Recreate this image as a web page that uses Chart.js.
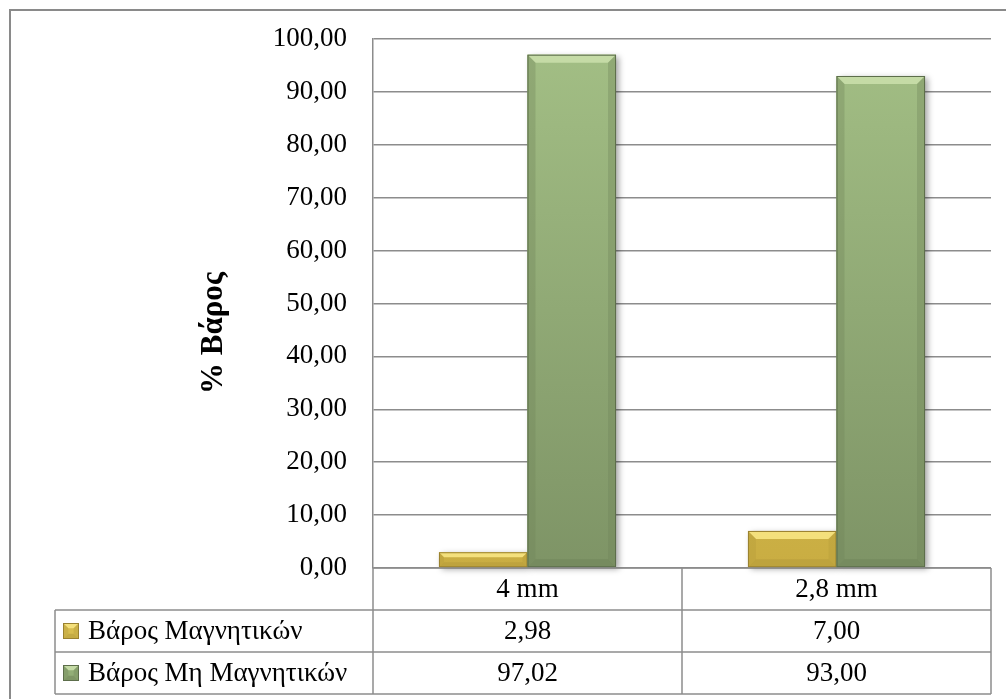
<!DOCTYPE html>
<html>
<head>
<meta charset="utf-8">
<script src="https://cdn.jsdelivr.net/npm/chart.js@4.4.1/dist/chart.umd.min.js"></script>
<style>
  html, body { margin: 0; padding: 0; background: #fff; }
  canvas { display: block; }
</style>
</head>
<body>
<canvas id="myChart" width="1006" height="699"></canvas>
<script>
// categories (sieve sizes) and the two weight fractions in %
const categories = ["4 mm", "2,8 mm"];
const seriesNames = ["Βάρος Μαγνητικών", "Βάρος Μη Μαγνητικών"];
const magnetic = [2.98, 7.00];
const nonMagnetic = [97.02, 93.00];
const yAxisTitle = "% Βάρος";

const FONT = "'Liberation Serif', 'DejaVu Serif', serif";
const FONT_SIZE = 27;
const ROW_H = 42;
const GRID = "#8c8c8c";

const fmt = (v) => v.toFixed(2).replace(".", ",");

// colours for each series: face, top bevel, bottom bevel, edge
const palette = [
    { face: "#d8be50", light: "#f4e07c", dark: "#b59b3a", edge: "#9a8230" },
    { face: "#93ae77", light: "#c5dba6", dark: "#6f8359", edge: "#5d6e4b" }
];

// draw a box with a bevelled top like the office 3D style
function bevelBox(ctx, x0, y0, x1, y1, pal, faceFill) {
    let w = x1 - x0, h = y1 - y0;
    let b = Math.min(8, h / 3, w / 3);
    ctx.save();
    ctx.fillStyle = faceFill || pal.face;
    ctx.fillRect(x0, y0, w, h);
    // top bevel
    ctx.fillStyle = pal.light;
    ctx.beginPath();
    ctx.moveTo(x0, y0); ctx.lineTo(x1, y0); ctx.lineTo(x1 - b, y0 + b); ctx.lineTo(x0 + b, y0 + b);
    ctx.closePath(); ctx.fill();
    // bottom bevel
    ctx.fillStyle = pal.dark;
    ctx.globalAlpha = 0.55;
    ctx.beginPath();
    ctx.moveTo(x0, y1); ctx.lineTo(x1, y1); ctx.lineTo(x1 - b, y1 - b); ctx.lineTo(x0 + b, y1 - b);
    ctx.closePath(); ctx.fill();
    // side bevels
    ctx.globalAlpha = 0.35;
    ctx.beginPath();
    ctx.moveTo(x0, y0); ctx.lineTo(x0 + b, y0 + b); ctx.lineTo(x0 + b, y1 - b); ctx.lineTo(x0, y1);
    ctx.closePath(); ctx.fill();
    ctx.beginPath();
    ctx.moveTo(x1, y0); ctx.lineTo(x1 - b, y0 + b); ctx.lineTo(x1 - b, y1 - b); ctx.lineTo(x1, y1);
    ctx.closePath(); ctx.fill();
    ctx.globalAlpha = 1;
    ctx.strokeStyle = pal.edge;
    ctx.lineWidth = 1;
    ctx.strokeRect(x0 + 0.5, y0 + 0.5, w - 1, h - 1);
    ctx.restore();
}

function faceGradient(chart, i) {
    const area = chart.chartArea;
    if (!area) return palette[i].face;
    const g = chart.ctx.createLinearGradient(0, area.top, 0, area.bottom);
    if (i === 0) {
        g.addColorStop(0, "#e6cf62");
        g.addColorStop(1, "#c9ad42");
    } else {
        g.addColorStop(0, "#a3bf85");
        g.addColorStop(1, "#7e9466");
    }
    return g;
}

// frame, bar shadows + bevels, and the data table under the plot
const barStyle = {
    id: "barStyle",
    beforeDraw(chart) {
        const ctx = chart.ctx;
        ctx.save();
        ctx.fillStyle = "#fff";
        ctx.fillRect(0, 0, chart.width, chart.height);
        // outer frame
        ctx.strokeStyle = "#8a8a8a";
        ctx.lineWidth = 2;
        ctx.beginPath();
        ctx.moveTo(10, chart.height + 5);
        ctx.lineTo(10, 10);
        ctx.lineTo(chart.width + 5, 10);
        ctx.stroke();
        ctx.restore();
    },
    afterDatasetsDraw(chart) {
        const ctx = chart.ctx;
        chart.data.datasets.forEach((ds, i) => {
            chart.getDatasetMeta(i).data.forEach((bar) => {
                let x0 = bar.x - bar.width / 2, x1 = bar.x + bar.width / 2;
                // soft shadow on the right
                ctx.save();
                ctx.shadowColor = "rgba(0,0,0,0.35)";
                ctx.shadowBlur = 6;
                ctx.shadowOffsetX = 3;
                ctx.shadowOffsetY = 2;
                ctx.fillStyle = palette[i].face;
                ctx.fillRect(x0, bar.y, x1 - x0, bar.base - bar.y);
                ctx.restore();
            });
        });
        chart.data.datasets.forEach((ds, i) => {
            chart.getDatasetMeta(i).data.forEach((bar) => {
                let x0 = bar.x - bar.width / 2, x1 = bar.x + bar.width / 2;
                bevelBox(ctx, x0, bar.y, x1, bar.base, palette[i], faceGradient(chart, i));
            });
        });
    },
    afterDraw(chart) {
        const ctx = chart.ctx;
        const area = chart.chartArea;
        const xs = chart.scales.x;
        const colW = (area.right - area.left) / categories.length;
        const top = area.bottom;
        const legendLeft = 55;
        ctx.save();
        ctx.strokeStyle = GRID;
        ctx.lineWidth = 1.5;
        // horizontal rules of the data table
        for (let r = 0; r <= 3; r++) {
            let y = top + r * ROW_H;
            ctx.beginPath();
            ctx.moveTo(r === 0 ? area.left : legendLeft, y);
            ctx.lineTo(area.right, y);
            ctx.stroke();
        }
        // vertical rules
        for (let c = 0; c <= categories.length; c++) {
            let x = area.left + c * colW;
            ctx.beginPath();
            ctx.moveTo(x, top);
            ctx.lineTo(x, top + 3 * ROW_H);
            ctx.stroke();
        }
        ctx.beginPath();
        ctx.moveTo(legendLeft, top + ROW_H);
        ctx.lineTo(legendLeft, top + 3 * ROW_H);
        ctx.stroke();

        ctx.fillStyle = "#000";
        ctx.font = FONT_SIZE + "px " + FONT;
        ctx.textBaseline = "middle";
        ctx.textAlign = "center";
        categories.forEach((c, i) => {
            let cx = xs.getPixelForValue(i);
            ctx.fillText(c, cx, top + ROW_H / 2 + 1);
            ctx.fillText(fmt(magnetic[i]), cx, top + ROW_H * 1.5 + 1);
            ctx.fillText(fmt(nonMagnetic[i]), cx, top + ROW_H * 2.5 + 1);
        });
        // legend keys and series names
        seriesNames.forEach((name, i) => {
            let cy = top + ROW_H * (i + 1.5);
            bevelBox(ctx, 63, cy - 8, 79, cy + 8, palette[i], palette[i].face);
            ctx.fillStyle = "#000";
            ctx.textAlign = "left";
            ctx.fillText(name, 88, cy + 1);
        });

        // rotated axis title
        ctx.translate(214, 333);
        ctx.rotate(-Math.PI / 2);
        ctx.font = "bold 31px " + FONT;
        ctx.textAlign = "center";
        ctx.fillText(yAxisTitle, 0, 0);
        ctx.restore();
    }
};

const myChart = new Chart(document.getElementById("myChart"), {
    type: "bar",
    data: {
        labels: categories,
        datasets: [
            {
                label: seriesNames[0],
                data: magnetic,
                backgroundColor: "rgba(0,0,0,0)",
                borderWidth: 0
            },
            {
                label: seriesNames[1],
                data: nonMagnetic,
                backgroundColor: "rgba(0,0,0,0)",
                borderWidth: 0
            }
        ]
    },
    options: {
        responsive: false,
        animation: false,
        layout: { padding: { top: 30, right: 15, bottom: 699 - 568, left: 0 } },
        plugins: {
            legend: { display: false },
            tooltip: { enabled: false }
        },
        datasets: {
            bar: { barPercentage: 1, categoryPercentage: 0.573 }
        },
        scales: {
            x: { display: false },
            y: {
                min: 0,
                max: 100,
                afterFit(scale) { scale.width = 373; },
                border: { display: true, color: GRID, width: 1.5 },
                grid: { color: GRID, lineWidth: 1.5, drawTicks: false },
                ticks: {
                    stepSize: 10,
                    padding: 26,
                    color: "#000",
                    font: { family: FONT, size: FONT_SIZE, lineHeight: 0.96 },
                    callback: (v) => fmt(v)
                }
            }
        }
    },
    plugins: [barStyle]
});
</script>
</body>
</html>
